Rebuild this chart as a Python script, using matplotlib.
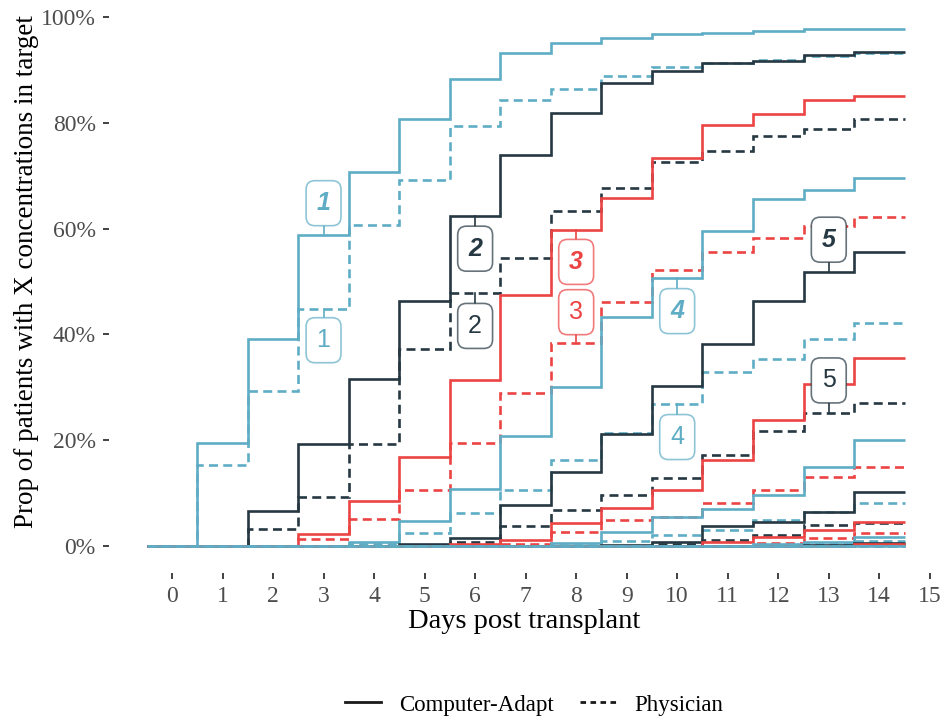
import numpy as np
import matplotlib
matplotlib.use("Agg")
import matplotlib.pyplot as plt
from matplotlib.colors import to_rgba
from matplotlib.lines import Line2D

# days post transplant (value holds from day-0.5 to day+0.5)
days = np.arange(15)

# cumulative % of patients in target, per number of occasions (1..13)
adapt = {
    1: [0, 19.5, 39.2, 58.8, 70.6, 80.8, 88.3, 93.1, 95.0, 96.0, 96.7, 97.0, 97.4, 97.7, 97.8],
    2: [0, 0, 6.7, 19.2, 31.6, 46.4, 62.3, 74.0, 81.9, 87.5, 89.7, 91.2, 91.7, 92.8, 93.4],
    3: [0, 0, 0, 2.3, 8.5, 16.9, 31.4, 47.4, 59.7, 65.8, 73.4, 79.5, 81.6, 84.3, 85.1],
    4: [0, 0, 0, 0, 0.8, 4.8, 10.8, 20.8, 30.0, 43.2, 50.6, 59.5, 65.5, 67.3, 69.5],
    5: [0, 0, 0, 0, 0, 0.3, 1.6, 7.7, 13.9, 21.2, 30.2, 38.2, 46.4, 51.7, 55.6],
    6: [0, 0, 0, 0, 0, 0, 0.3, 1.1, 4.3, 7.1, 10.6, 16.3, 23.9, 30.6, 35.6],
    7: [0, 0, 0, 0, 0, 0, 0, 0.1, 0.5, 2.7, 5.5, 7.0, 9.6, 14.9, 20.0],
    8: [0, 0, 0, 0, 0, 0, 0, 0, 0, 0.2, 0.8, 3.7, 4.6, 6.5, 10.3],
    9: [0, 0, 0, 0, 0, 0, 0, 0, 0, 0, 0, 0.8, 1.8, 3.1, 4.6],
    10: [0, 0, 0, 0, 0, 0, 0, 0, 0, 0, 0, 0, 0.3, 0.8, 1.8],
    11: [0, 0, 0, 0, 0, 0, 0, 0, 0, 0, 0, 0, 0, 0.2, 0.6],
    12: [0, 0, 0, 0, 0, 0, 0, 0, 0, 0, 0, 0, 0, 0, 0.3],
    13: [0, 0, 0, 0, 0, 0, 0, 0, 0, 0, 0, 0, 0, 0, 0],
}
physician = {
    1: [0, 15.3, 29.3, 44.8, 60.7, 69.2, 79.4, 84.3, 86.3, 88.8, 90.6, 91.2, 91.9, 92.6, 93.1],
    2: [0, 0, 3.3, 9.3, 19.2, 37.2, 47.8, 54.4, 63.3, 67.6, 72.5, 74.7, 77.5, 78.8, 80.7],
    3: [0, 0, 0, 1.3, 5.2, 10.6, 19.4, 29.0, 38.3, 46.2, 52.2, 55.6, 58.2, 60.4, 62.2],
    4: [0, 0, 0, 0, 0.3, 2.4, 6.2, 10.6, 16.3, 21.4, 26.8, 32.8, 35.3, 39.1, 42.1],
    5: [0, 0, 0, 0, 0, 0.2, 0.8, 3.8, 6.8, 9.7, 12.8, 17.3, 21.7, 25.2, 27.1],
    6: [0, 0, 0, 0, 0, 0, 0.1, 0.4, 2.7, 4.9, 5.5, 8.1, 10.6, 13.0, 15.0],
    7: [0, 0, 0, 0, 0, 0, 0, 0, 0.2, 0.9, 2.1, 3.0, 4.9, 6.4, 8.1],
    8: [0, 0, 0, 0, 0, 0, 0, 0, 0, 0, 0.3, 1.2, 2.1, 4.0, 4.4],
    9: [0, 0, 0, 0, 0, 0, 0, 0, 0, 0, 0, 0, 0.5, 1.5, 2.4],
    10: [0, 0, 0, 0, 0, 0, 0, 0, 0, 0, 0, 0, 0, 0.3, 0.9],
    11: [0, 0, 0, 0, 0, 0, 0, 0, 0, 0, 0, 0, 0, 0, 0.3],
    12: [0, 0, 0, 0, 0, 0, 0, 0, 0, 0, 0, 0, 0, 0, 0.1],
    13: [0, 0, 0, 0, 0, 0, 0, 0, 0, 0, 0, 0, 0, 0, 0],
}

# label placement for the first five curves: (day, box y for adapt, box y for physician)
label_pos = {1: (3, 64.8, 38.9), 2: (6, 56.2, 41.6), 3: (8, 53.7, 44.2),
             4: (10, 44.4, 20.6), 5: (13, 57.9, 31.3)}

palette = ["#5FADC5", "#263842", "#EC4343"]
dash = (0, (3.4, 2.0))

fig = plt.figure(figsize=(9.48, 7.2), dpi=100)
ax = fig.add_axes([109 / 948, 147.5 / 720, 839 / 948, 572.5 / 720])

edges = np.append(days - 0.5, days[-1] + 0.5)
for k in adapt:
    col = palette[(k - 1) % 3]
    ax.stairs(adapt[k], edges, baseline=None, color=col, lw=1.9, zorder=2)
    ax.stairs(physician[k], edges, baseline=None, color=col, lw=1.9,
              linestyle=dash, zorder=2)

# number labels with a short leader to the curve
for k, (d, ya, yp) in label_pos.items():
    col = palette[(k - 1) % 3]
    for yb, vals, bold in [(ya, adapt[k], True), (yp, physician[k], False)]:
        ax.plot([d, d], [vals[d], yb], color=col, lw=1.2, zorder=3)
        ax.text(d, yb, str(k), ha="center", va="center", color=col,
                fontsize=18, family="Liberation Sans",
                fontweight="bold" if bold else "normal",
                fontstyle="italic" if bold else "normal", zorder=4,
                bbox=dict(boxstyle="round,pad=0.42,rounding_size=0.35",
                          fc="white", ec=to_rgba(col, 0.7), lw=1.2))

ax.set_xlim(-1.247, 15.36)
ax.set_ylim(-5, 103.2)
ax.set_xticks(range(16))
ax.set_yticks([0, 20, 40, 60, 80, 100])
ax.set_yticklabels([f"{v}%" for v in [0, 20, 40, 60, 80, 100]])
for s in ax.spines.values():
    s.set_visible(False)
ax.tick_params(length=4.5, width=1.3, color="#333333", labelcolor="#4D4D4D",
               labelsize=17, pad=5)
for t in ax.get_xticklabels() + ax.get_yticklabels():
    t.set_family("Liberation Serif")

fig.text(524 / 948, 1 - 622 / 720, "Days post transplant", ha="center",
         va="center", fontsize=20.5, family="Liberation Serif")
fig.text(27 / 948, 1 - 272 / 720, "Prop of patients with X concentrations in target",
         ha="center", va="center", rotation=90, fontsize=19.5,
         family="Liberation Serif")

handles = [Line2D([], [], color="#1a1a1a", lw=2),
           Line2D([], [], color="#1a1a1a", lw=2, linestyle=(0, (2, 1.6)))]
fig.legend(handles, ["Computer-Adapt", "Physician"], loc="center",
           bbox_to_anchor=(534 / 948, 1 - 705 / 720), ncol=2, frameon=False,
           prop={"family": "Liberation Serif", "size": 16.5},
           handlelength=1.6, handletextpad=0.8, columnspacing=1.1)

fig.savefig("out.png", dpi=100)
